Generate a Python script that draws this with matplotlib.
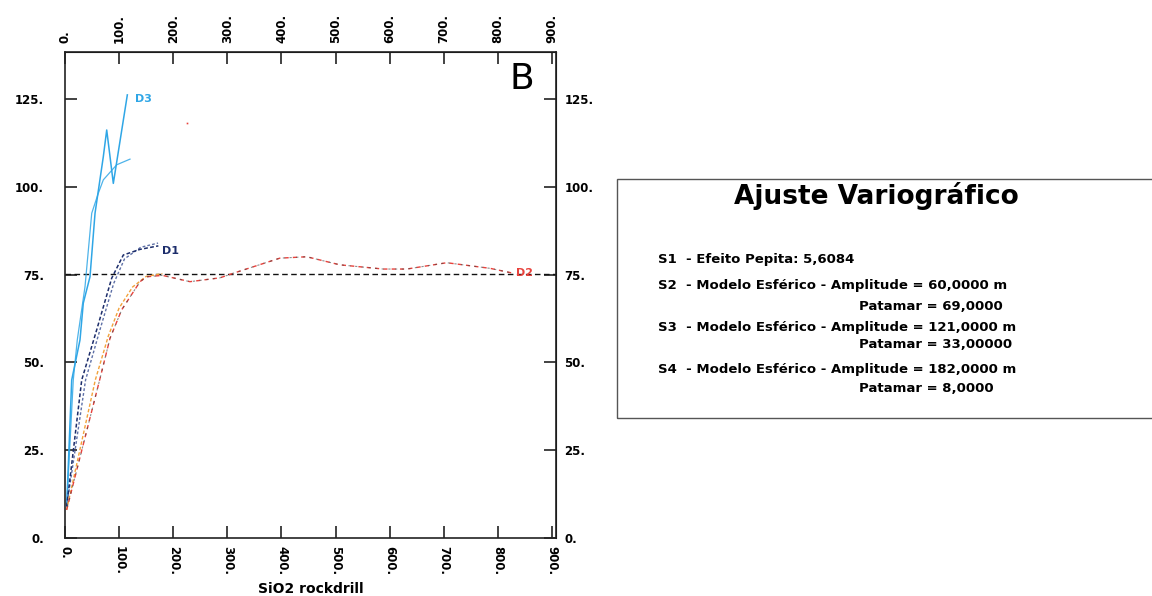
import matplotlib
matplotlib.use("Agg")
import matplotlib.pyplot as plt
from matplotlib.patches import Rectangle

plt.rcParams['font.family'] = ['DejaVu Sans']
plt.rcParams['font.weight'] = 'bold'

# ---------------- data ----------------
xtick_vals = [0, 100, 200, 300, 400, 500, 600, 700, 800, 900]
xtick_labels = ["0.", "100.", "200.", "300.", "400.", "500.", "600.", "700.", "800.", "900."]
ytick_vals = [0, 25, 50, 75, 100, 125]
ytick_labels = ["0.", "25.", "50.", "75.", "100.", "125."]

# D3 experimental (zig-zag) and model
d3_exp_x = [3.1, 12.4, 27.7, 33.8, 46.2, 55.5, 70.8, 77.1, 89.3, 115.2]
d3_exp_y = [9.0, 45.0, 56.4, 66.9, 74.4, 92.5, 108.6, 116.2, 101.0, 126.2]
d3_mod_x = [3.1, 15.3, 22.7, 37.0, 49.4, 61.6, 70.8, 95.6, 120.1]
d3_mod_y = [9.0, 45.0, 56.4, 71.6, 92.5, 98.2, 102.0, 106.3, 107.9]

# D1 experimental and model
d1_exp_x = [3.1, 30.9, 58.6, 86.3, 107.8, 138.6, 172.5]
d1_exp_y = [9.0, 45.0, 59.3, 74.0, 80.6, 82.2, 83.2]
d1_mod_x = [3.1, 38.0, 64.0, 90.0, 110.0, 140.0, 172.0]
d1_mod_y = [9.0, 45.0, 59.0, 72.5, 79.5, 82.8, 84.0]

# D2 experimental and model
d2_exp_x = [3.0, 64.0, 83.2, 104.8, 138.6, 151.0, 180.0, 231.0, 286.5, 311.0,
            397.0, 446.8, 508.0, 588.0, 631.6, 705.5, 785.6, 828.6]
d2_exp_y = [8.0, 45.0, 56.9, 65.0, 73.0, 74.4, 74.8, 73.0, 74.1, 75.4,
            79.7, 80.1, 77.8, 76.6, 76.6, 78.4, 76.8, 75.4]
d2_mod_x = [3.0, 56.0, 80.0, 100.0, 125.0, 150.0, 180.0]
d2_mod_y = [8.0, 45.0, 57.5, 65.5, 71.5, 74.5, 75.3]

sill_value = 75.3
speck_x = [225]
speck_y = [118.3]

# ---------------- figure ----------------
W, H = 1152, 596
fig = plt.figure(figsize=(W / 100, H / 100), dpi=100)
ax = fig.add_axes([65 / W, (H - 538) / H, (556 - 65) / W, (538 - 51.7) / H])
ax.set_xlim(0, 907.4)
ax.set_ylim(0, 138.5)

c_light = '#2fa6e6'
c_navy = '#1c2d6b'
c_navy2 = '#5d6fa6'
c_red = '#e8423c'
c_orange = '#f2a23a'
c_dark = '#444444'

ax.axhline(sill_value, color='#111111', lw=1.0, dashes=(4, 2.5), zorder=2)

ax.plot(d3_mod_x, d3_mod_y, color=c_light, lw=0.9, alpha=0.85, zorder=3)
ax.plot(d3_exp_x, d3_exp_y, color=c_light, lw=1.1, zorder=3)

ax.plot(d1_mod_x, d1_mod_y, color=c_navy2, lw=1.0, dashes=(2, 1.5), zorder=3)
ax.plot(d1_exp_x, d1_exp_y, color=c_navy, lw=1.1, dashes=(2.5, 1.5), zorder=3)

ax.plot(d2_mod_x, d2_mod_y, color=c_orange, lw=1.0, dashes=(2.5, 1.5), zorder=3)
ax.plot(d2_exp_x, d2_exp_y, color=c_red, lw=1.0, dashes=(3, 3), zorder=3)
ax.plot(d2_exp_x, d2_exp_y, color=c_dark, lw=0.8, dashes=(0, 3, 2, 1), alpha=0.6, zorder=3)

ax.plot(speck_x, speck_y, 's', color=c_red, ms=1.2, mew=0)

ax.text(129, 125, "D3", color=c_light, fontsize=8, va='center', ha='left')
ax.text(179, 81.8, "D1", color=c_navy, fontsize=8, va='center', ha='left')
ax.text(833, 75.4, "D2", color=c_red, fontsize=8, va='center', ha='left')
ax.text(845, 130.8, "B", color='black', fontsize=26, fontweight='normal',
        va='center', ha='center')

# ticks
tfs = 8.5
tick_kw = dict(direction='in', length=8.5, width=1.2, color='#222222')
ax.set_xticks(xtick_vals)
ax.set_xticklabels(xtick_labels, rotation=270, fontsize=tfs)
ax.set_yticks(ytick_vals)
ax.set_yticklabels(ytick_labels, fontsize=tfs)
ax.tick_params(axis='x', pad=6, **tick_kw)
ax.tick_params(axis='y', pad=15, **tick_kw)
for s in ax.spines.values():
    s.set_linewidth(1.2)
    s.set_color('#222222')

top = ax.secondary_xaxis('top')
top.set_xticks(xtick_vals)
top.set_xticklabels(xtick_labels, rotation=90, fontsize=tfs)
top.tick_params(axis='x', pad=6, **tick_kw)

right = ax.secondary_yaxis('right')
right.set_yticks(ytick_vals)
right.set_yticklabels(ytick_labels, fontsize=tfs)
right.tick_params(axis='y', pad=6, **tick_kw)

fig.text(311 / W, 1 - 589 / H, "SiO2 rockdrill", fontsize=10, ha='center', va='center')

# text box
fig.patches.append(Rectangle((617 / W, 1 - 418 / H), (1160 - 617) / W, (418 - 179) / H,
                             transform=fig.transFigure, fill=False,
                             edgecolor='#555555', lw=1.0))
fig.text(876 / W, 1 - 196 / H, "Ajuste Variográfico", fontsize=19, ha='center', va='center')
lx = 658 / W
px = 859 / W
fs = 9.5
fig.text(lx, 1 - 259 / H, "S1  - Efeito Pepita: 5,6084", fontsize=fs, va='center')
fig.text(lx, 1 - 285 / H, "S2  - Modelo Esférico - Amplitude = 60,0000 m", fontsize=fs, va='center')
fig.text(px, 1 - 307 / H, "Patamar = 69,0000", fontsize=fs, va='center')
fig.text(lx, 1 - 328 / H, "S3  - Modelo Esférico - Amplitude = 121,0000 m", fontsize=fs, va='center')
fig.text(px, 1 - 345 / H, "Patamar = 33,00000", fontsize=fs, va='center')
fig.text(lx, 1 - 370 / H, "S4  - Modelo Esférico - Amplitude = 182,0000 m", fontsize=fs, va='center')
fig.text(px, 1 - 388 / H, "Patamar = 8,0000", fontsize=fs, va='center')

fig.savefig("out.png", dpi=100)
